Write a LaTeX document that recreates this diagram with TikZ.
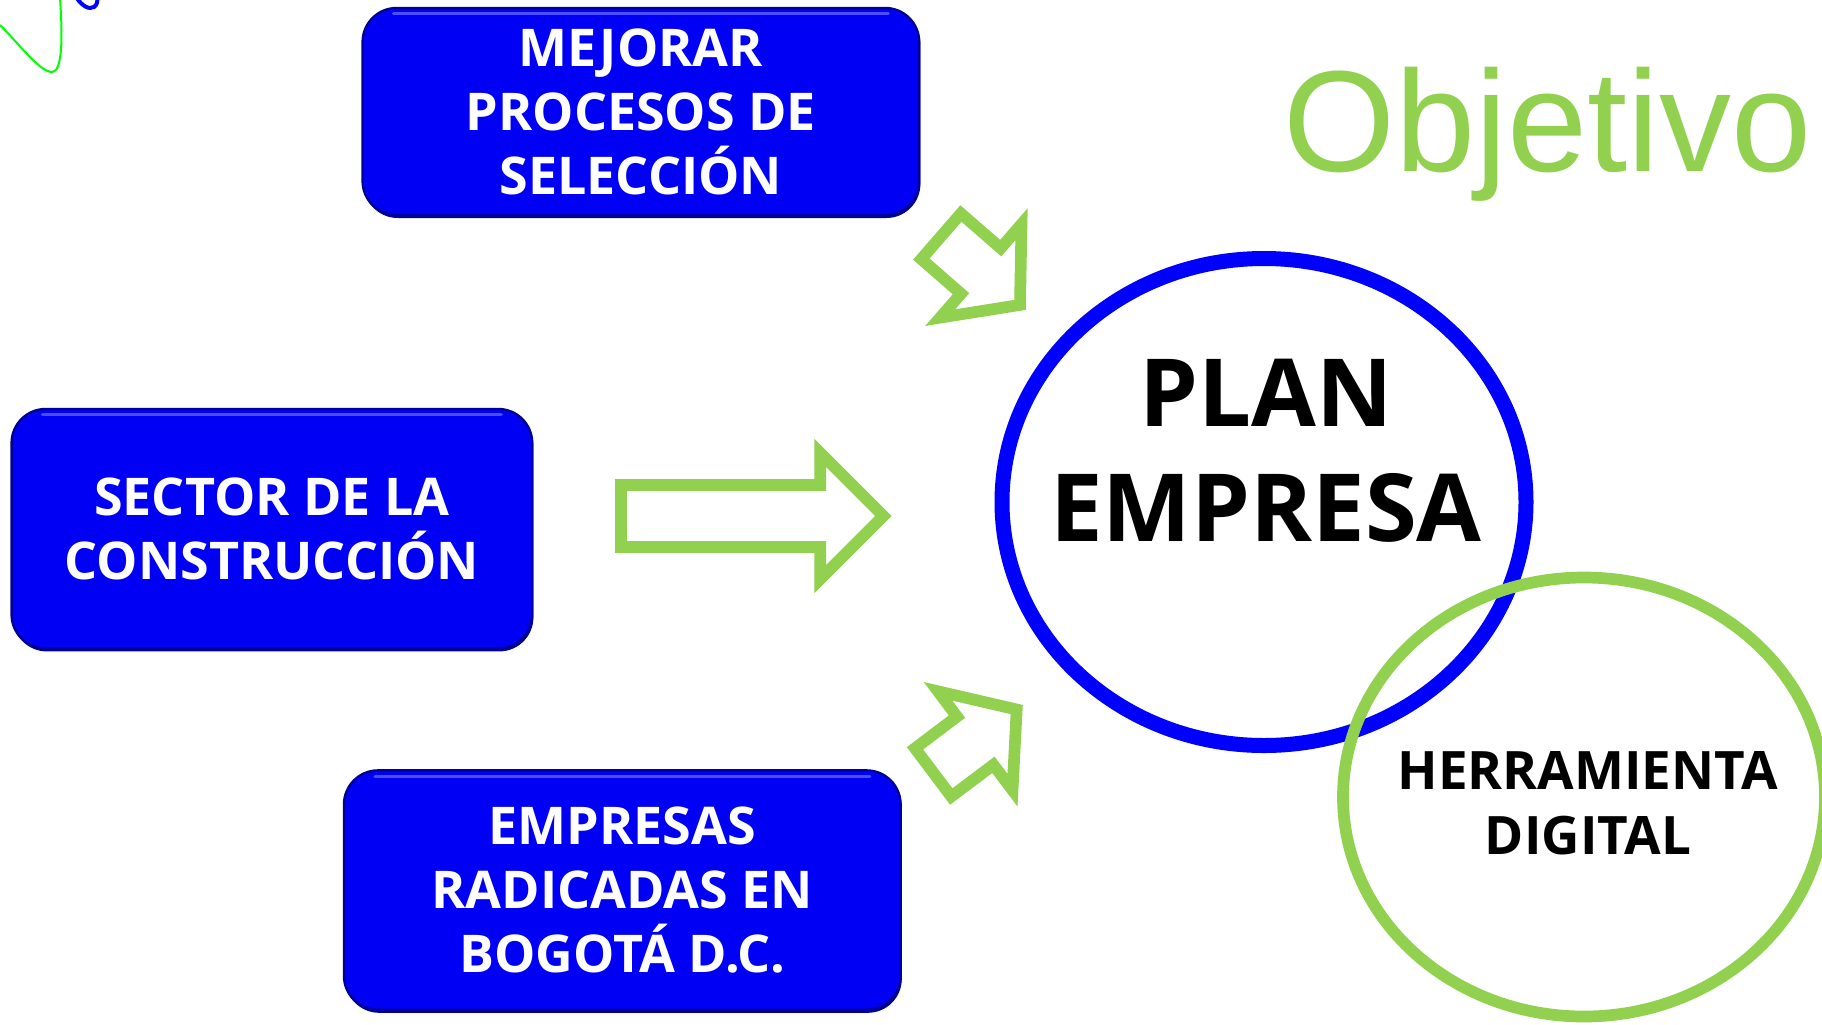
\documentclass[tikz,border=0pt]{standalone}
\usepackage{fontspec}
\setsansfont{Open Sans}
\newfontfamily\objfont{Liberation Sans}
\usetikzlibrary{shapes.geometric}
\definecolor{boxblue}{RGB}{0,0,245}
\definecolor{rimblue}{RGB}{0,0,150}
\definecolor{hiblue}{RGB}{110,110,255}
\definecolor{lgreen}{HTML}{92D050}
\definecolor{pureblue}{RGB}{0,0,255}
\definecolor{brightgreen}{RGB}{0,255,0}
\begin{document}
\begin{tikzpicture}[x=0.5pt,y=-0.5pt,
  bluebox/.style={rectangle, rounded corners=17pt, fill=boxblue, draw=rimblue, line width=1.2pt,
    preaction={fill=rimblue, transform canvas={yshift=-1.5pt, xshift=0.6pt}},
    text=white, font=\sffamily\bfseries\fontsize{26}{32}\selectfont, align=center, inner sep=0pt},
  blockarrow/.style={draw=lgreen, line width=5.85pt, line join=miter, fill=white},
  bigtext/.style={font=\sffamily\bfseries\fontsize{47}{57.3}\selectfont, align=center, text=black, inner sep=0pt},
  midtext/.style={font=\sffamily\bfseries\fontsize{26.5}{32.5}\selectfont, align=center, text=black, inner sep=0pt},
  highlight/.style={draw=hiblue, line width=1.5pt, line cap=round, opacity=0.7}]
\useasboundingbox (0,0) rectangle (1822,1024);
\fill[white] (0,0) rectangle (1822,1024);
% decoration squiggles
\draw[brightgreen, line width=1pt] (0,25) .. controls (20,45) and (40,72) .. (52,72) .. controls (62,72) and (63,40) .. (60,-2);
\draw[pureblue, line width=2pt] (76,-3) .. controls (82,6) and (89,10) .. (94,7) .. controls (97,5) and (98,1) .. (97,-3);
% boxes
\node[bluebox, minimum width=278.3pt, minimum height=103.5pt] (sel) at (640.9,111.5) {MEJORAR\\PROCESOS DE\\SELECCIÓN};
\node[bluebox, minimum width=260.3pt, minimum height=119.7pt] (sector) at (271.9,528.7) {SECTOR DE LA\\CONSTRUCCIÓN};
\node[bluebox, minimum width=278.3pt, minimum height=119.7pt] (emp) at (622.3,890.1) {EMPRESAS\\RADICADAS EN\\BOGOTÁ D.C.};
% top highlights of the boxes
\draw[highlight] ([xshift=16pt,yshift=-3.5pt]sel.north west) -- ([xshift=-16pt,yshift=-3.5pt]sel.north east);
\draw[highlight] ([xshift=16pt,yshift=-3.5pt]sector.north west) -- ([xshift=-16pt,yshift=-3.5pt]sector.north east);
\draw[highlight] ([xshift=16pt,yshift=-3.5pt]emp.north west) -- ([xshift=-16pt,yshift=-3.5pt]emp.north east);
% block arrows
\draw[blockarrow] (621,485) -- (820.2,485) -- (820.2,452.8) -- (883.4,516) -- (820.2,579.2) -- (820.2,547) -- (621,547) -- cycle;
\draw[blockarrow] (960.9,213.5) -- (1000.7,248.1) -- (1021.5,224.2) -- (1020.0,304.9) -- (940.2,317.6) -- (961.0,293.7) -- (921.3,259.1) -- cycle;
\draw[blockarrow] (915.0,748.3) -- (957.0,716.6) -- (938.0,691.3) -- (1016.7,709.5) -- (1012.5,790.1) -- (993.4,764.8) -- (951.3,796.5) -- cycle;
% ellipses
\node[ellipse, draw=pureblue, line width=7.5pt, fill=white, minimum width=262pt, minimum height=243.5pt, inner sep=0pt] (plan) at (1264,502) {};
\node[ellipse, draw=lgreen, line width=5.85pt, minimum width=241pt, minimum height=219.5pt, inner sep=0pt] (herr) at (1584,797) {};
% texts
\node[bigtext] (plantext) at (1266,451) {PLAN\\EMPRESA};
\node[midtext] (herrtext) at (1588,803) {HERRAMIENTA\\DIGITAL};
\node[font=\objfont\fontsize{72}{80}\selectfont, text=lgreen, anchor=base, inner sep=0pt] (obj) at (1547.5,171) {Objetivo};
\end{tikzpicture}
\end{document}
